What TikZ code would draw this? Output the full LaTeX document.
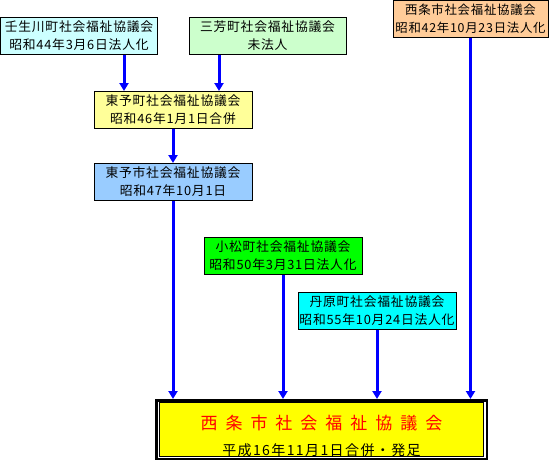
\documentclass[tikz,border=0pt]{standalone}
\usepackage{fontspec}
\usetikzlibrary{arrows.meta}
\newfontfamily\jpfont[LetterSpace=6]{Noto Sans CJK JP}
\newfontfamily\jpsub[LetterSpace=10]{Noto Sans CJK JP}
\newfontfamily\jptitle[LetterSpace=47]{Noto Sans CJK JP}
\definecolor{cLightCyan}{HTML}{CCFFFF}
\definecolor{cLightGreen}{HTML}{CCFFCC}
\definecolor{cOrange}{HTML}{FFCC99}
\definecolor{cLightYellow}{HTML}{FFFF99}
\definecolor{cLightBlue}{HTML}{99CCFF}
\definecolor{cGreen}{HTML}{00FF00}
\definecolor{cCyan}{HTML}{00FFFF}
\definecolor{cYellow}{HTML}{FFFF00}
\definecolor{cBlue}{HTML}{0000FF}
\definecolor{cRed}{HTML}{FF0000}
\tikzset{
  orgbox/.style={draw=black, line width=1pt, rectangle, inner sep=0pt,
    minimum width=157pt, minimum height=37pt, align=center,
    font=\jpfont\fontsize{12.8}{18}\selectfont},
  arr/.style={draw=cBlue, line width=3pt, -{Triangle[width=9pt,length=8pt]}},
}
\begin{document}
\begin{tikzpicture}[x=1pt,y=-1pt]
\useasboundingbox (0,0) rectangle (550,461);
\node[orgbox, fill=cLightCyan] (b1) at (79,35.5) {壬生川町社会福祉協議会\\昭和44年3月6日法人化};
\node[orgbox, fill=cLightGreen] (b2) at (267.5,36) {三芳町社会福祉協議会\\未法人};
\node[orgbox, fill=cOrange, minimum width=155pt, font=\jpfont\fontsize{12.4}{18}\selectfont] (b3) at (470.5,18.5) {西条市社会福祉協議会\\昭和42年10月23日法人化};
\node[orgbox, fill=cLightYellow, minimum width=158pt] (b4) at (173,110) {東予町社会福祉協議会\\昭和46年1月1日合併};
\node[orgbox, fill=cLightBlue, minimum width=158pt] (b5) at (173,182) {東予市社会福祉協議会\\昭和47年10月1日};
\node[orgbox, fill=cGreen, minimum width=158pt] (b6) at (283,256) {小松町社会福祉協議会\\昭和50年3月31日法人化};
\node[orgbox, fill=cCyan, minimum width=158pt] (b7) at (377,310.5) {丹原町社会福祉協議会\\昭和55年10月24日法人化};
% final box (double frame)
\node[draw=black, line width=2.5pt, minimum width=330.5pt, minimum height=58.5pt, inner sep=0pt, fill=white] (fout) at (321.5,429.5) {};
\node[draw=black, line width=1pt, fill=cYellow, minimum width=324pt, minimum height=52pt, inner sep=0pt, align=center] (fin) at (321.5,429.5)
  {\rule{0pt}{27pt}\textcolor{cRed}{\jptitle\fontsize{17}{17}\selectfont 西条市社会福祉協議会}\\[12pt]{\jpsub\fontsize{14}{14}\selectfont 平成16年11月1日合併・発足}};
% connectors
\draw[arr] ([xshift=45pt]b1.south) -- ([xshift=45pt]b1.south |- b4.north);
\draw[arr] ([xshift=-48.5pt]b2.south) -- ([xshift=-48.5pt]b2.south |- b4.north);
\draw[arr] (b4.south) -- (b5.north);
\draw[arr] (b5.south) -- (b5.south |- fout.north);
\draw[arr] (b6.south) -- (b6.south |- fout.north);
\draw[arr] (b7.south) -- (b7.south |- fout.north);
\draw[arr] (b3.south) -- (b3.south |- fout.north);
\end{tikzpicture}
\end{document}
